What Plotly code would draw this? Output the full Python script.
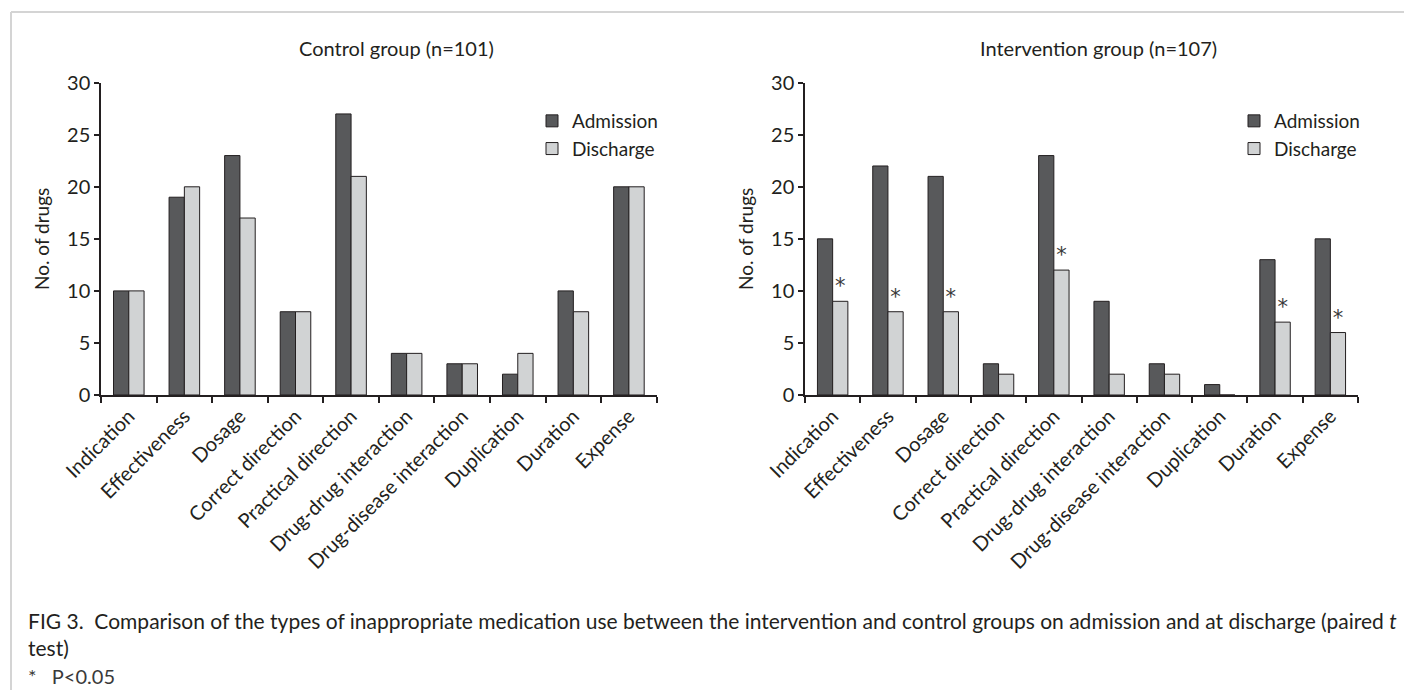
import plotly.graph_objects as go

# Categories of inappropriate medication use
categories = [
    "Indication", "Effectiveness", "Dosage", "Correct direction",
    "Practical direction", "Drug-drug interaction", "Drug-disease interaction",
    "Duplication", "Duration", "Expense",
]

# Control group (n=101): number of drugs
control_admission = [10, 19, 23, 8, 27, 4, 3, 2, 10, 20]
control_discharge = [10, 20, 17, 8, 21, 4, 3, 4, 8, 20]

# Intervention group (n=107): number of drugs
intervention_admission = [15, 22, 21, 3, 23, 9, 3, 1, 13, 15]
intervention_discharge = [9, 8, 8, 2, 12, 2, 2, 0, 7, 6]
# Paired t test, P<0.05
intervention_significant = [True, True, True, False, True, False, False, False, True, True]

y_ticks = [0, 5, 10, 15, 20, 25, 30]

W, H = 1404, 690
DARK = "#58595b"
LIGHT = "#d1d3d4"
EDGE = "#231f20"
FONT = "Lato"


def px_x(p):
    return p / W


def px_y(p):
    return 1 - p / H


fig = go.Figure()

fig.add_trace(go.Bar(
    x=categories, y=control_admission, name="Admission",
    marker=dict(color=DARK, line=dict(color=EDGE, width=1)),
    xaxis="x", yaxis="y", legend="legend",
))
fig.add_trace(go.Bar(
    x=categories, y=control_discharge, name="Discharge",
    marker=dict(color=LIGHT, line=dict(color=EDGE, width=1)),
    xaxis="x", yaxis="y", legend="legend",
))
fig.add_trace(go.Bar(
    x=categories, y=intervention_admission, name="Admission",
    marker=dict(color=DARK, line=dict(color=EDGE, width=1)),
    xaxis="x2", yaxis="y2", legend="legend2",
))
fig.add_trace(go.Bar(
    x=categories, y=intervention_discharge, name="Discharge",
    marker=dict(color=LIGHT, line=dict(color=EDGE, width=1)),
    text=["*" if s else "" for s in intervention_significant],
    textposition="outside", constraintext="none", cliponaxis=False,
    textfont=dict(family="DejaVu Sans", size=21, color="#3a3a3a"),
    xaxis="x2", yaxis="y2", legend="legend2",
))

y_bottom, y_top = px_y(395), px_y(82.7)

xaxis_common = dict(
    type="category", categoryorder="array", categoryarray=categories,
    showline=True, linecolor=EDGE, linewidth=1.5,
    ticks="outside", tickson="boundaries", ticklen=6, tickcolor=EDGE, tickwidth=1.5,
    tickangle=-45, tickfont=dict(family=FONT, size=20, color=EDGE),
    showgrid=False, zeroline=False, fixedrange=True, automargin=False,
)
yaxis_common = dict(
    range=[0, 30], tickvals=y_ticks, ticktext=[str(v) for v in y_ticks],
    showline=True, linecolor=EDGE, linewidth=1.5,
    ticks="outside", ticklen=5, tickcolor=EDGE, tickwidth=1.5,
    tickfont=dict(family=FONT, size=20, color=EDGE),
    title=dict(text="No. of drugs", font=dict(family=FONT, size=19, color=EDGE), standoff=12),
    showgrid=False, zeroline=False, fixedrange=True, automargin=False,
    domain=[y_bottom, y_top],
)

legend_common = dict(
    font=dict(family=FONT, size=19, color=EDGE),
    bgcolor="rgba(0,0,0,0)", borderwidth=0,
    xanchor="left", yanchor="top", itemclick=False, itemdoubleclick=False,
    traceorder="normal",
)

fig.update_layout(
    template="none",
    width=W, height=H,
    margin=dict(l=0, r=0, t=0, b=0, pad=0),
    paper_bgcolor="white", plot_bgcolor="white",
    barmode="group", bargap=0.45, bargroupgap=0,
    xaxis=dict(**xaxis_common, domain=[px_x(101), px_x(656.7)], anchor="y"),
    yaxis=dict(**yaxis_common, anchor="x"),
    xaxis2=dict(**xaxis_common, domain=[px_x(805), px_x(1358)], anchor="y2"),
    yaxis2=dict(**yaxis_common, anchor="x2"),
    legend=dict(**legend_common, x=px_x(532), y=px_y(102)),
    legend2=dict(**legend_common, x=px_x(1234), y=px_y(102)),
    font=dict(family=FONT, color=EDGE),
)

# Panel titles
for label, cx in [("Control group (n=101)", 396), ("Intervention group (n=107)", 1098)]:
    fig.add_annotation(text=label, x=px_x(cx), y=px_y(48), xref="paper", yref="paper",
                       xanchor="center", yanchor="middle", showarrow=False,
                       font=dict(family=FONT, size=20, color=EDGE))

# Figure caption, wrapped onto two lines
caption = ("FIG 3.&nbsp; Comparison of the types of inappropriate medication use between the "
           "intervention and control groups on admission and at discharge (paired <i>t</i>"
           "<br>test)")
fig.add_annotation(text=caption, x=px_x(26), y=px_y(606), xref="paper", yref="paper",
                   xanchor="left", yanchor="top", align="left", showarrow=False,
                   font=dict(family=FONT, size=21, color=EDGE))
fig.add_annotation(text="*&nbsp;&nbsp; P&lt;0.05", x=px_x(26), y=px_y(676), xref="paper", yref="paper",
                   xanchor="left", yanchor="middle", showarrow=False,
                   font=dict(family=FONT, size=20, color="#3a3a3a"))

# Light frame along the top and left edges
frame = dict(type="line", xref="paper", yref="paper", line=dict(color="#d4d4d4", width=2))
fig.add_shape(**frame, x0=px_x(11), y0=px_y(12), x1=1, y1=px_y(12))
fig.add_shape(**frame, x0=px_x(11), y0=px_y(12), x1=px_x(11), y1=0)

fig.write_html("out.html", post_script="document.body.style.margin='0';")
